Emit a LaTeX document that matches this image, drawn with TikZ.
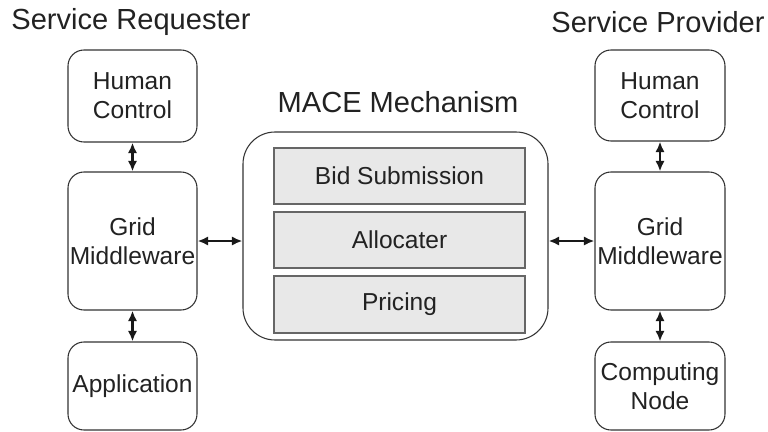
\documentclass[tikz,border=0pt]{standalone}
\usepackage{fontspec}
\setmainfont{Liberation Sans}
\usetikzlibrary{arrows.meta}
\definecolor{ink}{HTML}{222222}
\tikzset{
  outer/.style={draw=black!80, line width=0.8pt, rounded corners=12pt, fill=white, align=center, inner sep=0pt, text=ink, font=\fontsize{18.4}{21.5}\selectfont},
  inner/.style={draw=black!60, line width=0.8pt, fill=black!9, inner sep=0pt, text=ink, font=\fontsize{18.4}{21.5}\selectfont},
  title/.style={font=\fontsize{21.8}{24}\selectfont, inner sep=0pt, text=ink},
  link/.style={{Latex[length=8pt,width=7pt]}-{Latex[length=8pt,width=7pt]}, line width=1.8pt, black!90}
}
\begin{document}
\begin{tikzpicture}[x=0.75pt,y=-0.75pt]
\useasboundingbox (0,0) rectangle (768,432);
% titles
\node[title] (treq) at (131,22) {Service Requester};
\node[title] (tprov) at (658,22) {Service Provider};
\node[title] (tmace) at (398,102) {MACE Mechanism};
% left column
\node[outer, minimum width=96.75pt, minimum height=69pt] (lhc) at (132.5,96) {Human\\Control};
\node[outer, minimum width=96.75pt, minimum height=103.5pt] (lgm) at (132.5,241) {Grid\\Middleware};
\node[outer, minimum width=96.75pt, minimum height=66pt] (app) at (132.5,386) {Application};
% right column
\node[outer, minimum width=97.5pt, minimum height=68.25pt] (rhc) at (660,95.5) {Human\\Control};
\node[outer, minimum width=97.5pt, minimum height=103.5pt] (rgm) at (660,241) {Grid\\Middleware};
\node[outer, minimum width=97.5pt, minimum height=66pt] (cn) at (660,386) {Computing\\Node};
% centre
\node[outer, rounded corners=24pt, minimum width=228.75pt, minimum height=156pt] (mace) at (395.5,236) {};
\node[inner, minimum width=188.25pt, minimum height=42pt] (bid) at (399.5,176) {Bid Submission};
\node[inner, minimum width=188.25pt, minimum height=42pt] (alloc) at (399.5,240) {Allocater};
\node[inner, minimum width=188.25pt, minimum height=42.75pt] (price) at (399.5,304.5) {Pricing};
% links
\draw[link] (lhc) -- (lgm);
\draw[link] (lgm) -- (app);
\draw[link] (rhc) -- (rgm);
\draw[link] (rgm) -- (cn);
\draw[link] (lgm.east) -- (lgm.east -| mace.west);
\draw[link] (rgm.west -| mace.east) -- (rgm.west);
\end{tikzpicture}
\end{document}
